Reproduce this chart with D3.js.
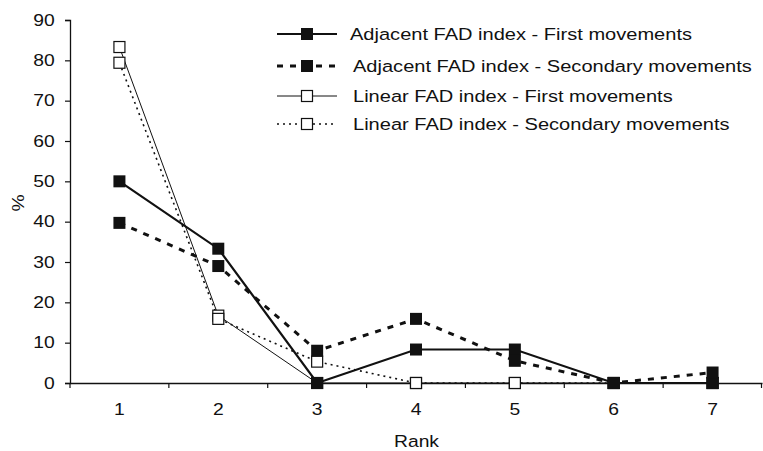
<!DOCTYPE html>
<html>
<head>
<meta charset="utf-8">
<script src="https://cdn.jsdelivr.net/npm/d3@7"></script>
<style>
  body { margin: 0; background: #fff; }
  text { font-family: "Liberation Sans", Arial, sans-serif; fill: #111; }
</style>
</head>
<body>
<div id="chart"></div>
<script>
// data
const ranks = ["1", "2", "3", "4", "5", "6", "7"];
const adjFirst = [50, 33.3, 0, 8.3, 8.3, 0, 0];
const adjSecondary = [39.7, 29, 8, 15.9, 5.5, 0, 2.6];
const linFirst = [83.3, 16.7, 0, 0, 0, 0, 0];
const linSecondary = [79.4, 15.9, 5.3, 0, 0, 0, 0];
const yTicks = [0, 10, 20, 30, 40, 50, 60, 70, 80, 90];
const seriesNames = [
    "Adjacent FAD index - First movements",
    "Adjacent FAD index - Secondary movements",
    "Linear FAD index - First movements",
    "Linear FAD index - Secondary movements"
];

const width = 763, height = 451;
const margin = { top: 20, right: 1, bottom: 68, left: 70 };

const svg = d3.select("#chart").append("svg")
    .attr("width", width)
    .attr("height", height);

const x = d3.scaleBand().domain(ranks).range([margin.left, width - margin.right]);
const y = d3.scaleLinear().domain([0, 90]).range([height - margin.bottom, margin.top]);
const cx = d => x(d) + x.bandwidth() / 2;

// styles of each series (order = legend order)
const styles = [
    { values: adjFirst, width: 2.2, dash: null, fill: "#111", size: 12 },
    { values: adjSecondary, width: 3, dash: "6,7", fill: "#111", size: 12 },
    { values: linFirst, width: 1, dash: null, fill: "#fff", size: 11 },
    { values: linSecondary, width: 1.6, dash: "2,4", fill: "#fff", size: 11 }
];

const sx = 1.17; // the original type is a bit wide

// --- axes ---
const yAxis = svg.append("g")
    .attr("transform", `translate(${margin.left},0)`)
    .call(d3.axisLeft(y).tickValues(yTicks).tickSize(5).tickPadding(8));
yAxis.select(".domain").attr("stroke", "#111").attr("stroke-width", 1.3);
yAxis.selectAll(".tick line").attr("stroke", "#111").attr("stroke-width", 1.2);
yAxis.selectAll("text")
    .style("font-size", "16.5px")
    .attr("font-family", null)
    .attr("transform", `scale(${sx},1)`);

const xAxis = svg.append("g")
    .attr("transform", `translate(0,${y(0)})`)
    .call(d3.axisBottom(x).tickSize(0).tickPadding(20));
xAxis.select(".domain").attr("stroke", "#111").attr("stroke-width", 1.3);
xAxis.selectAll("text")
    .style("font-size", "16.5px")
    .attr("font-family", null)
    .attr("transform", `scale(${sx},1)`);

// tick marks sit between the categories
const bounds = ranks.map(d => x(d)).concat([x.range()[1] - 0.5]);
xAxis.selectAll(".bound")
    .data(bounds)
    .enter().append("line")
    .attr("class", "bound")
    .attr("x1", d => d).attr("x2", d => d)
    .attr("y1", 0).attr("y2", 5)
    .attr("stroke", "#111").attr("stroke-width", 1.2);

svg.append("text")
    .attr("transform", `translate(${(margin.left + width) / 2},447) scale(${sx},1)`)
    .attr("text-anchor", "middle")
    .style("font-size", "16.5px")
    .text("Rank");

svg.append("text")
    .attr("transform", `translate(24,203) rotate(-90) scale(${sx},1)`)
    .attr("text-anchor", "middle")
    .style("font-size", "16.5px")
    .text("%");

// --- series ---
const line = d3.line()
    .x((v, i) => cx(ranks[i]))
    .y(v => y(v));

// linear series first, the adjacent ones are on top
const drawOrder = [2, 3, 0, 1];
drawOrder.forEach(k => {
    const s = styles[k];
    svg.append("path")
        .datum(s.values)
        .attr("d", line)
        .attr("fill", "none")
        .attr("stroke", "#111")
        .attr("stroke-width", s.width)
        .attr("stroke-dasharray", s.dash);
});
drawOrder.forEach(k => {
    const s = styles[k];
    svg.append("g").selectAll("rect")
        .data(s.values)
        .enter().append("rect")
        .attr("x", (v, i) => cx(ranks[i]) - s.size / 2)
        .attr("y", v => y(v) - s.size / 2)
        .attr("width", s.size)
        .attr("height", s.size)
        .attr("fill", s.fill)
        .attr("stroke", "#111")
        .attr("stroke-width", s.fill === "#fff" ? 1.2 : 0);
});

// --- legend ---
const legend = svg.append("g").attr("transform", "translate(277,0)");
const rowY = [34, 66, 96, 124];
styles.forEach((s, k) => {
    const row = legend.append("g").attr("transform", `translate(0,${rowY[k]})`);
    row.append("line")
        .attr("x1", 0).attr("x2", 60)
        .attr("stroke", "#111")
        .attr("stroke-width", s.width)
        .attr("stroke-dasharray", s.dash);
    row.append("rect")
        .attr("x", 30 - s.size / 2).attr("y", -s.size / 2)
        .attr("width", s.size).attr("height", s.size)
        .attr("fill", s.fill)
        .attr("stroke", "#111")
        .attr("stroke-width", s.fill === "#fff" ? 1.2 : 0);
    row.append("text")
        .attr("transform", `translate(${k === 0 ? 73 : 76},6) scale(1.18,1)`)
        .style("font-size", "17px")
        .text(seriesNames[k]);
});
</script>
</body>
</html>
